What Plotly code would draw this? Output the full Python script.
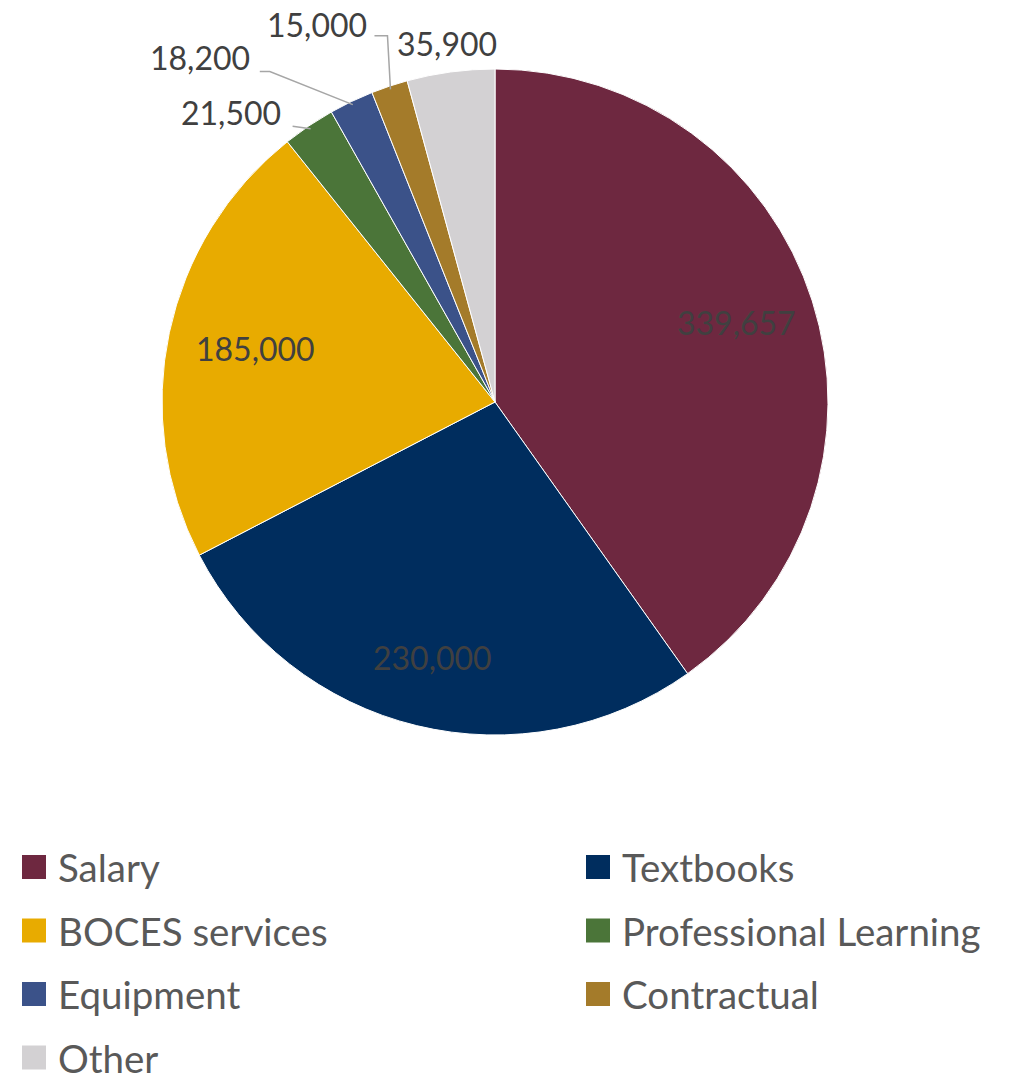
import math
import plotly.graph_objects as go

# ---------------- data ----------------
categories = ["Salary", "Textbooks", "BOCES services", "Professional Learning",
              "Equipment", "Contractual", "Other"]
values = [339657, 230000, 185000, 21500, 18200, 15000, 35900]
value_labels = ["339,657", "230,000", "185,000", "21,500", "18,200", "15,000", "35,900"]

# ---------------- style ----------------
colors = ["#6E2840", "#002D5E", "#E8AB00", "#4B7539", "#3B5289", "#A47B2A", "#D3D1D3"]
W, H = 1017, 1078
CX, CY, R = 495, 402, 333
FONT = "Lato"
TEXT_COLOR = "#404040"
LEGEND_COLOR = "#595959"
LEADER_COLOR = "#A6A6A6"
LABEL_DY = -3  # baseline correction for the substitute font

# label placement per slice: inside -> radial factor; outside -> offsets (px) from slice edge
label_style = [
    {"kind": "inside", "rf": 0.76},
    {"kind": "inside", "rf": 0.80},
    {"kind": "inside", "rf": 0.735},
    {"kind": "outside", "off": (-80, -16), "leader": [(-18, -2.5), (0, 0)]},
    {"kind": "outside", "off": (-153, -47), "leader": [(-93, -33), (-83, -33), (0, 0)]},
    {"kind": "outside", "off": (-73, -65), "leader": [(-16, -53.5), (-3, -53.5), (0, 0)]},
    {"kind": "outside", "off": (-4, -32), "leader": None},
]


def to_paper(x, y):
    return x / W, 1 - y / H


def polar(angle_deg, r):
    a = math.radians(angle_deg)
    return CX + r * math.sin(a), CY - r * math.cos(a)


fig = go.Figure()
fig.add_trace(go.Pie(
    labels=categories,
    values=values,
    sort=False,
    direction="clockwise",
    rotation=0,
    marker=dict(colors=colors, line=dict(color="white", width=1)),
    textinfo="none",
    hoverinfo="label+value",
    showlegend=False,
    domain=dict(x=[(CX - R) / W, (CX + R) / W], y=[1 - (CY + R) / H, 1 - (CY - R) / H]),
))

total = sum(values)
annotations = []
shapes = []
cum = 0.0
for i, v in enumerate(values):
    frac = v / total
    mid = (cum + frac / 2) * 360
    cum += frac
    st = label_style[i]
    if st["kind"] == "inside":
        x, y = polar(mid, R * st["rf"])
        y += LABEL_DY
    else:
        ex, ey = polar(mid, R * 0.99)
        x, y = ex + st["off"][0], ey + st["off"][1]
        if st["leader"]:
            pts = [to_paper(ex + dx, ey + dy) for dx, dy in st["leader"]]
            path = "M " + " L ".join(f"{p[0]},{p[1]}" for p in pts)
            shapes.append(dict(type="path", path=path, xref="paper", yref="paper",
                               line=dict(color=LEADER_COLOR, width=1.5)))
    xp, yp = to_paper(x, y)
    annotations.append(dict(x=xp, y=yp, xref="paper", yref="paper", text=value_labels[i],
                            showarrow=False, xanchor="center", yanchor="middle",
                            font=dict(family=FONT, size=32, color=TEXT_COLOR)))

# custom legend (two columns)
LEG_X = [22, 586]
LEG_Y0, LEG_DY = 867, 63.5
SQ = 24
for i, name in enumerate(categories):
    col, row = i % 2, i // 2
    mx = LEG_X[col]
    my = LEG_Y0 + row * LEG_DY
    x0, y0 = to_paper(mx, my - SQ / 2)
    x1, y1 = to_paper(mx + SQ, my + SQ / 2)
    shapes.append(dict(type="rect", xref="paper", yref="paper", x0=x0, x1=x1, y0=y1, y1=y0,
                       fillcolor=colors[i], line=dict(width=0)))
    tx, ty = to_paper(mx + 34, my)
    annotations.append(dict(x=tx, y=ty, xref="paper", yref="paper", text=name,
                            showarrow=False, xanchor="left", yanchor="middle",
                            font=dict(family=FONT, size=38.5, color=LEGEND_COLOR)))

fig.update_layout(
    width=W, height=H,
    margin=dict(l=0, r=0, t=0, b=0),
    paper_bgcolor="white", plot_bgcolor="white",
    annotations=annotations, shapes=shapes,
    font=dict(family=FONT),
)

fig.write_html("out.html", config={"displayModeBar": False},
               post_script="document.body.style.margin='0';document.body.style.overflow='hidden';")
